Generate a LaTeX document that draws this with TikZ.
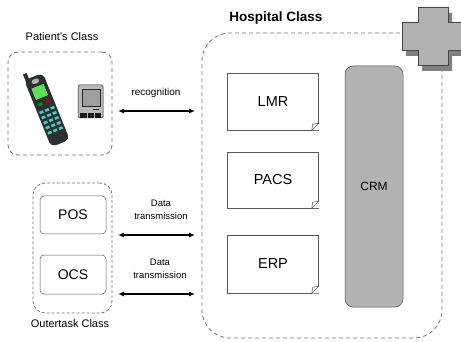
\documentclass[tikz,border=0pt]{standalone}
\usepackage{fontspec}
\setmainfont{Liberation Sans}
\usepackage{tikz}
\usetikzlibrary{arrows.meta, positioning, shapes.geometric}

\definecolor{dashgray}{gray}{0.45}
\definecolor{crmgray}{gray}{0.70}
\definecolor{crossgray}{gray}{0.70}
\definecolor{shadowgray}{gray}{0.50}
\definecolor{phonebody}{HTML}{2B3131}
\definecolor{phonescreen}{HTML}{5EDC5A}
\definecolor{phonekey}{HTML}{4CC9C2}

% small fold at the lower right corner of a document box
\newcommand{\foldcorner}[1]{%
    \fill[white] ([xshift=-7pt]#1.south east) -- (#1.south east) -- ([yshift=7pt]#1.south east) -- cycle;
    \draw[docline] ([xshift=-7pt]#1.south east) -- ([xshift=-6pt,yshift=6pt]#1.south east)
        -- ([yshift=7pt]#1.south east);
    \draw[docline] ([xshift=-7pt]#1.south east) -- ([yshift=7pt]#1.south east);
}

\begin{document}
\begin{tikzpicture}[
            x=1pt, y=-1pt,
            every node/.style={font=\fontsize{11}{13}\selectfont},
            classbox/.style={draw=dashgray, line width=0.8pt, dash pattern=on 4pt off 3pt},
            docline/.style={draw=gray!70!black, line width=0.5pt},
            docbox/.style={docline, fill=white, minimum width=91pt, font=\fontsize{14.5}{16}\selectfont},
            unitbox/.style={draw=gray!70!black, line width=0.5pt, rounded corners=4pt,
                minimum width=66pt, font=\fontsize{14}{16}\selectfont},
            linktext/.style={align=center, font=\fontsize{9.5}{13}\selectfont},
            link/.style={{Latex[length=6pt,width=5pt]}-{Latex[length=6pt,width=5pt]}, line width=1.1pt}
        ]

        \useasboundingbox (0,0) rectangle (461,342);

        % class frames
        \node[classbox, rounded corners=10pt, minimum width=104pt, minimum height=103pt] (patient) at (60,103.5) {};
        \node[classbox, rounded corners=12pt, dash pattern=on 3pt off 2pt,
            minimum width=79pt, minimum height=130pt] (outer) at (72.5,248) {};
        \node[classbox, rounded corners=28pt, minimum width=240pt, minimum height=305pt] (hospital) at (322,185.5) {};

        \node at (62,37) {Patient's Class};
        \node[font=\bfseries\fontsize{13.5}{15}\selectfont] at (276,18) {Hospital Class};
        \node at (70,324) {Outertask Class};

        % hospital cross
        \fill[shadowgray] (422,13) -- (452,13) -- (452,28) -- (465,28) -- (465,56) -- (452,56)
            -- (452,71) -- (422,71) -- (422,56) -- (406,56) -- (406,28) -- (422,28) -- cycle;
        \filldraw[fill=crossgray, draw=gray!55!black, line width=0.5pt]
            (418,7) -- (448,7) -- (448,22) -- (461,22) -- (461,50) -- (448,50)
            -- (448,65) -- (418,65) -- (418,50) -- (402,50) -- (402,22) -- (418,22) -- cycle;

        % mobile phone
        \begin{scope}[shift={(47,110)}, rotate=22]
            \fill[phonebody] (-9,-42) rectangle (-5,-33);
            \fill[phonebody, rounded corners=5pt] (-10,-36) rectangle (10,36);
            \fill[gray!60] (0,-31) ellipse (4 and 2.5);
            \filldraw[fill=phonescreen, draw=black, line width=0.4pt] (-7,-26) rectangle (7,-13);
            \fill[green!60!black] (-6,-9) rectangle (-2,-6.5);
            \fill[red!75!black] (2,-9) rectangle (6,-6.5);
            \foreach \col in {-6,0,6} {
                \foreach \row in {0,5.5,11,16.5,22} {
                    \fill[phonekey] (\col-2,\row-1.3) rectangle (\col+2,\row+1.3);
                }
            }
        \end{scope}

        % small terminal
        \filldraw[fill=gray!55, draw=gray!30!black, line width=0.5pt, rounded corners=1.5pt] (78,85) rectangle (103,118);
        \filldraw[fill=gray!75, draw=gray!30!black, line width=0.5pt] (82,89) rectangle (100,106);
        \fill[gray!30!black] (93,109) rectangle (99,110.5);
        \fill[gray!20!black] (80,113) rectangle (101,118);
        \foreach \xx in {86.5,93.5} {
            \fill[gray!60] (\xx,113) rectangle (\xx+1,118);
        }

        % hospital systems
        \node[docbox, minimum height=57pt] (lmr) at (273,101.5) {LMR};
        \node[docbox, minimum height=56pt] (pacs) at (273,180) {PACS};
        \node[docbox, minimum height=58pt] (erp) at (273,264) {ERP};
        \foldcorner{lmr}
        \foldcorner{pacs}
        \foldcorner{erp}
        \node[draw=gray!60!black, fill=crmgray, line width=0.5pt, rounded corners=8pt,
            minimum width=58pt, minimum height=241pt, font=\fontsize{12}{14}\selectfont] (crm) at (374,186.5) {CRM};

        % outer task systems
        \node[unitbox, minimum height=38pt] (pos) at (73,215) {POS};
        \node[unitbox, minimum height=39pt] (ocs) at (73,274.5) {OCS};

        % links
        \coordinate (recL) at (118,111);
        \coordinate (recR) at (195,111);
        \coordinate (posL) at (118,235);
        \coordinate (posR) at (195,235);
        \coordinate (ocsL) at (118,294);
        \coordinate (ocsR) at (195,294);

        \draw[link] (recL) -- (recR);
        \draw[link] (posL) -- (posR);
        \draw[link] (ocsL) -- (ocsR);

        \node[font=\fontsize{10}{12}\selectfont] (rectext) at (156,93) {recognition};
        \node[linktext] (postext) at (161,210) {Data\\transmission};
        \node[linktext] (ocstext) at (160,268.5) {Data\\transmission};

    \end{tikzpicture}
\end{document}
